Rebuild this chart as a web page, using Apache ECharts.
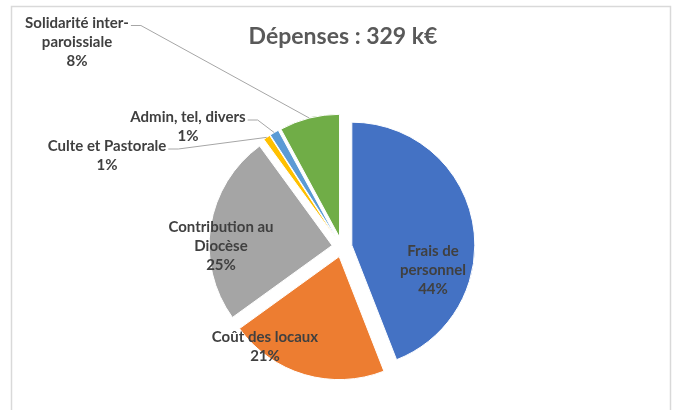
<!DOCTYPE html>
<html>
<head>
<meta charset="utf-8">
<script src="https://cdn.jsdelivr.net/npm/echarts@6/dist/echarts.min.js"></script>
<style>
  html, body { margin: 0; padding: 0; background: #fff; }
  #chart { width: 674px; height: 410px; }
</style>
</head>
<body>
<div id="chart"></div>
<script>
// Postes de dépenses (k€), dans l'ordre horaire depuis midi
const categories = [
    'Frais de\npersonnel',
    'Coût des locaux',
    'Contribution au\nDiocèse',
    'Culte et Pastorale',
    'Admin, tel, divers',
    'Solidarité inter-\nparoissiale'
];
const values = [145, 69, 82, 3, 4, 26];
const colors = ['#4472C4', '#ED7D31', '#A5A5A5', '#FFC000', '#5B9BD5', '#70AD47'];
const titleText = 'Dépenses : 329 k€';

// Centre des étiquettes, placées comme dans le graphique Excel
const labelPos = [
    [433, 270],
    [265, 347],
    [221, 246],
    [107, 156],
    [188, 127],
    [77, 42]
];

const CENTER = [342, 247];
const RADIUS = 123;
const EXPLODE = 10;

const total = values.reduce((a, b) => a + b, 0);
const isOutside = values.map(v => v / total < 0.1);

// Secteurs éclatés (sans étiquettes : l'état "selected" fige leur position)
const sliceData = values.map((v, i) => ({
    value: v,
    name: categories[i],
    selected: true,
    itemStyle: { color: colors[i] }
}));

// Copie transparente qui porte les étiquettes et les traits de rappel
const labelData = values.map((v, i) => ({
    value: v,
    name: categories[i],
    label: { position: isOutside[i] ? 'outside' : 'inside' },
    labelLine: { show: isOutside[i] }
}));

function placeLabel(params) {
    const i = params.dataIndex;
    const p = labelPos[i];
    const out = { x: p[0], y: p[1], align: 'center', verticalAlign: 'middle' };
    if (isOutside[i] && params.labelLinePoints) {
        // point sur l'arc, décalé comme le secteur éclaté
        const a = params.labelLinePoints[0];
        const dx = a[0] - CENTER[0];
        const dy = a[1] - CENTER[1];
        const len = Math.sqrt(dx * dx + dy * dy);
        const arc = [a[0] + dx / len * EXPLODE, a[1] + dy / len * EXPLODE];
        const w = params.labelRect.width;
        const h = params.labelRect.height;
        const start = [p[0] + w / 2 + 2, p[1] - h / 2 + 12];
        const elbow = [start[0] + 10, start[1]];
        out.labelLinePoints = [arc, elbow, start];
    }
    return out;
}

const chart = echarts.init(document.getElementById('chart'));

chart.setOption({
    animation: false,
    textStyle: { fontFamily: 'Lato' },
    title: {
        text: titleText,
        left: 338,
        top: 20,
        textAlign: 'center',
        textStyle: {
            fontFamily: 'Lato',
            fontSize: 23,
            fontWeight: 'bold',
            color: '#595959'
        }
    },
    graphic: [{
        type: 'rect',
        shape: { x: 11.5, y: 6.5, width: 659, height: 420 },
        style: { fill: 'none', stroke: '#d9d9d9', lineWidth: 1.5 },
        silent: true,
        z: -1
    }],
    series: [
        {
            type: 'pie',
            center: CENTER,
            radius: RADIUS,
            startAngle: 90,
            clockwise: true,
            selectedMode: 'multiple',
            selectedOffset: EXPLODE,
            itemStyle: { borderColor: '#fff', borderWidth: 1 },
            label: { show: false },
            labelLine: { show: false },
            emphasis: { disabled: true },
            data: sliceData
        },
        {
            type: 'pie',
            center: CENTER,
            radius: RADIUS,
            startAngle: 90,
            clockwise: true,
            silent: true,
            z: 3,
            percentPrecision: 0,
            avoidLabelOverlap: false,
            itemStyle: { color: 'rgba(0,0,0,0)', borderWidth: 0 },
            label: {
                formatter: '{b}\n{d}%',
                fontFamily: 'Lato',
                fontSize: 15,
                fontWeight: 'bold',
                lineHeight: 19,
                color: '#404040',
                align: 'center'
            },
            labelLine: {
                length: 10,
                length2: 10,
                lineStyle: { color: '#a6a6a6', width: 1 }
            },
            labelLayout: placeLabel,
            emphasis: { disabled: true },
            data: labelData
        }
    ]
});
</script>
</body>
</html>
